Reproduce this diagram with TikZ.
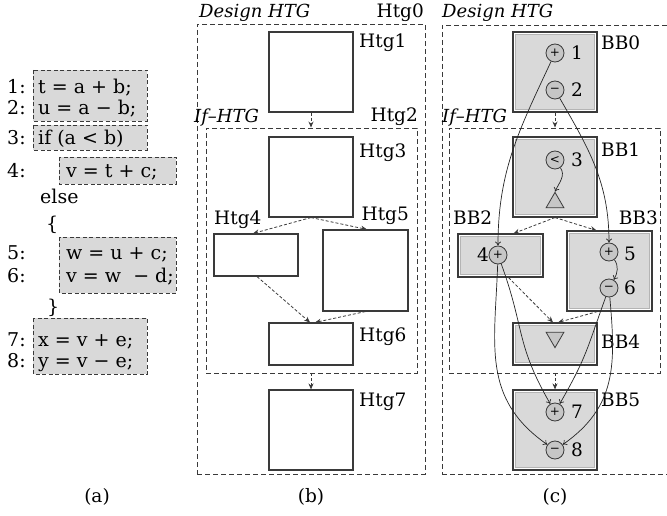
\documentclass[tikz,border=0pt]{standalone}
\usepackage{fontspec}
\setmainfont{DejaVu Serif}
\usetikzlibrary{arrows.meta,shapes.geometric}
\definecolor{boxgray}{HTML}{D9D9D9}
\definecolor{edgegray}{HTML}{3A3A3A}
\definecolor{innergray}{HTML}{B4B4B4}
\definecolor{circgray}{HTML}{C6C6C6}
\newcommand{\bbfill}[1]{\filldraw[fill=boxgray,draw=innergray,line width=0.8pt] ([shift={(3.2pt,3.2pt)}]#1.south west) rectangle ([shift={(-3.2pt,-3.2pt)}]#1.north east);}
\begin{document}
\begin{tikzpicture}[x=1pt,y=1pt,
  lbl/.style={font=\fontsize{18.5}{20}\selectfont, inner sep=0pt},
  code/.style={font=\fontsize{19}{20}\selectfont, inner sep=0pt, anchor=base west},
  ilbl/.style={font=\fontsize{18}{20}\selectfont\itshape, inner sep=0pt},
  codebox/.style={draw=edgegray, dash pattern=on 4pt off 2.5pt, fill=boxgray, line width=0.8pt},
  htgbox/.style={draw=edgegray, line width=1.1pt, fill=white, inner sep=0pt},
  region/.style={draw=edgegray, dash pattern=on 5pt off 3pt, line width=0.9pt, inner sep=0pt},
  cflow/.style={-{Stealth[length=6pt,width=5pt]}, dash pattern=on 3pt off 2pt, line width=0.8pt, draw=edgegray},
  dflow/.style={-{To[length=4pt,width=6pt]}, line width=0.7pt, draw=black!85},
  op/.style={circle, draw=edgegray, fill=circgray, minimum size=18pt, inner sep=0pt, line width=0.8pt, font=\fontsize{12}{12}\selectfont},
  tri/.style={regular polygon, regular polygon sides=3, draw=edgegray, fill=circgray, minimum size=20.5pt, inner sep=0pt, line width=0.8pt},
]
\useasboundingbox (0,0) rectangle (667,515);

% ---------------- panel (a)
\draw[codebox] (33,445) rectangle (147,394);
\draw[codebox] (33,390) rectangle (147,365);
\draw[codebox] (59,358) rectangle (176,331);
\draw[codebox] (59,278) rectangle (176,222);
\draw[codebox] (33,197) rectangle (147,141);

\node[code] (l1) at (7,421) {1:};
\node[code] (l2) at (7,400.5) {2:};
\node[code] (l3) at (7,370.5) {3:};
\node[code] (l4) at (7,337.5) {4:};
\node[code] (l5) at (7,255.5) {5:};
\node[code] (l6) at (7,233) {6:};
\node[code] (l7) at (7,168.5) {7:};
\node[code] (l8) at (7,148) {8:};
\node[code] (c1) at (38,421) {t = a + b;};
\node[code] (c2) at (38,400.5) {u = a − b;};
\node[code] (c3) at (38,370.5) {if (a < b)};
\node[code] (c4) at (66,337.5) {v = t + c;};
\node[code] (ce) at (40,311.5) {else};
\node[code] (cb) at (46,284) {\{};
\node[code] (c5) at (66,255.5) {w = u + c;};
\node[code] (c6) at (66,233) {v = w \ − d;};
\node[code] (cc) at (47,202) {\}};
\node[code] (c7) at (38,168.5) {x = v + e;};
\node[code] (c8) at (38,148) {y = v − e;};
\node[lbl] (capa) at (97,18) {(a)};

% ---------------- panel (b)
\node[region, minimum width=228pt, minimum height=450pt] (h0) at (311,266) {};
\node[region, minimum width=211pt, minimum height=245pt] (h2) at (311.5,264.5) {};
\node[ilbl, anchor=west] (dh1) at (199,502) {Design HTG};
\node[lbl, anchor=east] (lh0) at (424,502) {Htg0};
\node[ilbl, anchor=west] (ih1) at (194,397) {If–HTG};
\node[lbl, anchor=east] (lh2) at (418,398) {Htg2};

\node[htgbox, minimum width=84pt, minimum height=80pt] (h1) at (311,443) {};
\node[htgbox, minimum width=84pt, minimum height=80pt] (h3) at (311,338) {};
\node[htgbox, minimum width=84pt, minimum height=42pt] (h4) at (256,260) {};
\node[htgbox, minimum width=85pt, minimum height=81pt] (h5) at (365.5,244.5) {};
\node[htgbox, minimum width=84pt, minimum height=42pt] (h6) at (311,171) {};
\node[htgbox, minimum width=84pt, minimum height=80pt] (h7) at (311,85) {};
\node[lbl, anchor=west] (lh1) at (359,472) {Htg1};
\node[lbl, anchor=west] (lh3) at (359,362) {Htg3};
\node[lbl, anchor=west] (lh4) at (214,295) {Htg4};
\node[lbl, anchor=east] (lh5) at (409,299) {Htg5};
\node[lbl, anchor=west] (lh6) at (359,178) {Htg6};
\node[lbl, anchor=west] (lh7) at (359,113) {Htg7};

\draw[cflow] (h1.south) -- (h1.south |- h2.north);
\draw[cflow] (h3.south) -- ([xshift=-3pt]h4.north);
\draw[cflow] (h3.south) -- ([xshift=1.5pt]h5.north);
\draw[cflow] ([xshift=1pt]h4.south) -- ([xshift=-1pt]h6.north);
\draw[cflow] (h5.south) -- ([xshift=4pt]h6.north);
\draw[cflow] (h7.north |- h2.south) -- (h7.north);
\node[lbl] (capb) at (311,18) {(b)};

% ---------------- panel (c)
\node[region, minimum width=240pt, minimum height=449pt] (g0) at (562,265.5) {};
\node[region, minimum width=211pt, minimum height=245pt] (g2) at (554.5,264.5) {};
\node[ilbl, anchor=west] (dh2) at (442,502) {Design HTG};
\node[ilbl, anchor=west] (ih2) at (442,397) {If–HTG};

\node[htgbox, minimum width=84pt, minimum height=80pt] (b0) at (555,443) {};
\node[htgbox, minimum width=84pt, minimum height=80pt] (b1) at (555,338) {};
\node[htgbox, minimum width=85pt, minimum height=43pt] (b2) at (500.5,259.5) {};
\node[htgbox, minimum width=85pt, minimum height=80pt] (b3) at (609.5,244) {};
\node[htgbox, minimum width=84pt, minimum height=42pt] (b4) at (555,171) {};
\node[htgbox, minimum width=84pt, minimum height=80pt] (b5) at (555,85) {};
\bbfill{b0}\bbfill{b1}\bbfill{b2}\bbfill{b3}\bbfill{b4}\bbfill{b5}
\node[lbl, anchor=west] (lb0) at (601,472) {BB0};
\node[lbl, anchor=west] (lb1) at (601,365) {BB1};
\node[lbl, anchor=west] (lb2) at (453,297) {BB2};
\node[lbl, anchor=east] (lb3) at (658,297) {BB3};
\node[lbl, anchor=west] (lb4) at (601,173) {BB4};
\node[lbl, anchor=west] (lb5) at (601,115) {BB5};

\node[op] (n1) at (555,462) {+};
\node[op] (n2) at (555,425) {−};
\node[op] (n3) at (555,355) {<};
\node[tri] (t1) at (555,312.4) {};
\node[op] (n4) at (498,260) {+};
\node[op] (n5) at (609,263) {+};
\node[op] (n6) at (609,227) {−};
\node[tri, shape border rotate=180] (t2) at (555,177.6) {};
\node[op] (n7) at (555,103) {+};
\node[op] (n8) at (555,65) {−};
\node[lbl] (k1) at (577,462) {1};
\node[lbl] (k2) at (577,425) {2};
\node[lbl] (k3) at (577,355) {3};
\node[lbl] (k4) at (483,260) {4};
\node[lbl] (k5) at (630,261) {5};
\node[lbl] (k6) at (630,227) {6};
\node[lbl] (k7) at (577,103) {7};
\node[lbl] (k8) at (577,65) {8};

\draw[cflow] (b0.south) -- (b0.south |- g2.north);
\draw[cflow] (b1.south) -- ([xshift=13pt]b2.north);
\draw[cflow] (b1.south) -- ([xshift=-13pt]b3.north);
\draw[cflow] ([xshift=8pt]b2.south) -- ([xshift=-2pt]b4.north);
\draw[cflow] ([xshift=-12pt]b3.south) -- ([xshift=3pt]b4.north);
\draw[cflow] (b5.north |- g2.south) -- (b5.north);

\draw[dflow] (n1) to[out=245, in=90] (n4);
\draw[dflow] (n2) to[out=-60, in=90] (n5);
\draw[dflow] (n3) to[out=-55, in=65] (t1.corner 1);
\draw[dflow] (n5) to[out=-55, in=60] (n6);
\draw[dflow] (n4) to[out=290, in=120, looseness=1.2] (n7);
\draw[dflow] (n4) to[out=268, in=145, looseness=1.1] (n8);
\draw[dflow] (n6) to[out=250, in=60, looseness=1.2] (n7);
\draw[dflow] (n6) to[out=275, in=35, looseness=1.1] (n8);
\node[lbl] (capc) at (555,18) {(c)};
\end{tikzpicture}
\end{document}
